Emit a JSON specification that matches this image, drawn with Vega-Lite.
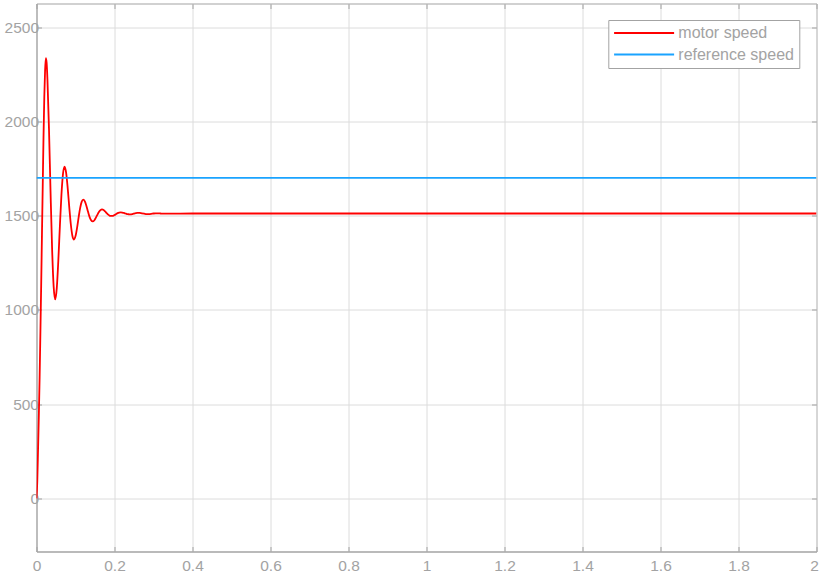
{
  "$schema": "https://vega.github.io/schema/vega-lite/v6.json",
  "width": 780,
  "height": 548,
  "autosize": "none",
  "padding": {"left": 36.5, "top": 3.5, "right": 2.5, "bottom": 28.5},
  "background": "white",
  "config": {
    "view": {"stroke": "#a3a3a3", "strokeWidth": 1},
    "font": "Liberation Sans",
    "axis": {
      "labelFont": "Liberation Sans",
      "labelFontSize": 15.5,
      "labelColor": "#a3a3a3",
      "domainColor": "#a3a3a3",
      "tickColor": "#a3a3a3",
      "gridColor": "#dcdcdc",
      "gridWidth": 1,
      "title": null
    }
  },
  "datasets": {
    "motor": [
      {"t": 0, "v": 0}, {"t": 0.002, "v": 90}, {"t": 0.004, "v": 260}, {"t": 0.006, "v": 440},
      {"t": 0.008, "v": 640}, {"t": 0.010, "v": 880}, {"t": 0.012, "v": 1130}, {"t": 0.014, "v": 1400},
      {"t": 0.016, "v": 1660}, {"t": 0.018, "v": 1920}, {"t": 0.020, "v": 2130}, {"t": 0.022, "v": 2270},
      {"t": 0.024, "v": 2335}, {"t": 0.026, "v": 2310}, {"t": 0.028, "v": 2225}, {"t": 0.032, "v": 1961},
      {"t": 0.036, "v": 1627}, {"t": 0.040, "v": 1324}, {"t": 0.044, "v": 1123}, {"t": 0.048, "v": 1055},
      {"t": 0.052, "v": 1115}, {"t": 0.056, "v": 1263}, {"t": 0.060, "v": 1446}, {"t": 0.064, "v": 1612},
      {"t": 0.068, "v": 1723}, {"t": 0.072, "v": 1760}, {"t": 0.076, "v": 1727}, {"t": 0.080, "v": 1646},
      {"t": 0.084, "v": 1545}, {"t": 0.088, "v": 1454}, {"t": 0.092, "v": 1393}, {"t": 0.096, "v": 1373},
      {"t": 0.100, "v": 1391}, {"t": 0.104, "v": 1435}, {"t": 0.108, "v": 1491}, {"t": 0.112, "v": 1541},
      {"t": 0.116, "v": 1574}, {"t": 0.120, "v": 1585}, {"t": 0.124, "v": 1575}, {"t": 0.128, "v": 1551},
      {"t": 0.132, "v": 1521}, {"t": 0.136, "v": 1493}, {"t": 0.140, "v": 1475}, {"t": 0.144, "v": 1469},
      {"t": 0.148, "v": 1474}, {"t": 0.152, "v": 1488}, {"t": 0.156, "v": 1504}, {"t": 0.160, "v": 1519},
      {"t": 0.164, "v": 1529}, {"t": 0.168, "v": 1533}, {"t": 0.172, "v": 1530}, {"t": 0.176, "v": 1522},
      {"t": 0.180, "v": 1513}, {"t": 0.184, "v": 1505}, {"t": 0.188, "v": 1499}, {"t": 0.192, "v": 1498},
      {"t": 0.196, "v": 1499}, {"t": 0.200, "v": 1503}, {"t": 0.204, "v": 1508}, {"t": 0.208, "v": 1513},
      {"t": 0.212, "v": 1516}, {"t": 0.216, "v": 1517}, {"t": 0.220, "v": 1516}, {"t": 0.224, "v": 1514},
      {"t": 0.228, "v": 1511}, {"t": 0.232, "v": 1508}, {"t": 0.236, "v": 1507}, {"t": 0.240, "v": 1506},
      {"t": 0.246, "v": 1508}, {"t": 0.252, "v": 1512}, {"t": 0.258, "v": 1514}, {"t": 0.264, "v": 1514},
      {"t": 0.270, "v": 1512}, {"t": 0.276, "v": 1510}, {"t": 0.282, "v": 1508}, {"t": 0.288, "v": 1508},
      {"t": 0.294, "v": 1509}, {"t": 0.300, "v": 1511}, {"t": 0.306, "v": 1512}, {"t": 0.312, "v": 1512},
      {"t": 0.318, "v": 1511}, {"t": 0.324, "v": 1510}, {"t": 0.336, "v": 1510}, {"t": 0.4, "v": 1511},
      {"t": 2.0, "v": 1511}
    ],
    "reference": [
      {"t": 0, "v": 1700}, {"t": 2.0, "v": 1700}
    ]
  },
  "layer": [
    {
      "data": {"name": "motor"},
      "mark": {"type": "line", "strokeWidth": 1.8, "interpolate": "monotone", "clip": true},
      "encoding": {
        "x": {"field": "t", "type": "quantitative",
              "scale": {"domain": [0, 2], "nice": false, "zero": false},
              "axis": {"orient": "bottom", "values": [0, 0.2, 0.4, 0.6, 0.8, 1, 1.2, 1.4, 1.6, 1.8, 2],
                       "format": "~g", "grid": true, "tickSize": -5, "labelPadding": 12, "labelFlush": false,
                       "labelOffset": {"condition": {"test": "datum.value == 2", "value": -2.5}, "value": 0}}},
        "y": {"field": "v", "type": "quantitative",
              "scale": {"domain": [-282, 2625], "nice": false, "zero": false},
              "axis": {"orient": "left", "values": [0, 500, 1000, 1500, 2000, 2500], "format": "d",
                       "grid": true, "tickSize": -5, "labelPadding": 3, "labelFlush": false}},
        "color": {"datum": "motor speed", "type": "nominal",
                  "scale": {"domain": ["motor speed", "reference speed"], "range": ["#ff0000", "#1aa3ff"]},
                  "legend": {
                    "orient": "none", "legendX": 571.8, "legendY": 16.5, "title": null,
                    "symbolType": "M-2.4,0H17.6", "symbolSize": 36, "symbolStrokeWidth": 2,
                    "labelFont": "Liberation Sans", "labelFontSize": 16, "labelColor": "#a3a3a3",
                    "labelOffset": 49, "rowPadding": 5.5, "padding": 5,
                    "strokeColor": "#a3a3a3", "fillColor": "white"
                  }}
      }
    },
    {
      "data": {"name": "reference"},
      "mark": {"type": "line", "strokeWidth": 1.8, "clip": true},
      "encoding": {
        "x": {"field": "t", "type": "quantitative", "axis": null},
        "y": {"field": "v", "type": "quantitative", "axis": null},
        "color": {"datum": "reference speed", "type": "nominal"}
      }
    },
    {
      "data": {"name": "reference"},
      "mark": {"type": "line", "opacity": 0},
      "encoding": {
        "x": {"field": "t", "type": "quantitative",
              "axis": {"orient": "top", "values": [0, 0.2, 0.4, 0.6, 0.8, 1, 1.2, 1.4, 1.6, 1.8, 2],
                       "labels": false, "grid": false, "tickSize": -5, "domain": false}},
        "y": {"field": "v", "type": "quantitative",
              "axis": {"orient": "right", "values": [0, 500, 1000, 1500, 2000, 2500],
                       "labels": false, "grid": false, "tickSize": -5, "domain": false}}
      }
    }
  ],
  "resolve": {"axis": {"x": "independent", "y": "independent"}}
}
